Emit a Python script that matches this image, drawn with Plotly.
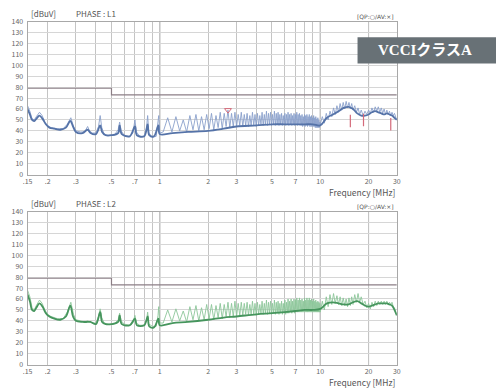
import plotly.graph_objects as go

# ---------------- data (MHz, dBuV) ----------------
LIMIT_F = [0.15, 0.5, 0.5, 30]
LIMIT_V = [79, 79, 73, 73]

X_TICKS = [0.15, 0.2, 0.3, 0.4, 0.5, 0.6, 0.7, 0.8, 0.9, 1, 2, 3, 4, 5, 6, 7, 8, 9, 10, 20, 30]
X_TEXT = [".15", ".2", ".3", "", ".5", "", ".7", "", "", "1", "2", "3", "", "5", "", "7", "", "", "10", "20", "30"]
Y_TICKS = [0, 10, 20, 30, 40, 50, 60, 70, 80, 90, 100, 110, 120, 130, 140]

# L1 - QP sweep
L1_LOW_F = [0.150, 0.155, 0.160, 0.165, 0.170, 0.178, 0.185, 0.192, 0.200, 0.210, 0.230, 0.250, 0.265, 0.279, 0.290,
            0.300, 0.320, 0.340, 0.355, 0.365, 0.380, 0.400, 0.415, 0.425, 0.435, 0.450, 0.480, 0.520, 0.550, 0.562,
            0.575, 0.600, 0.650, 0.680, 0.700, 0.715, 0.750, 0.800, 0.825, 0.840, 0.855, 0.900, 0.950, 0.975, 0.985]
L1_LOW_V = [63, 58, 51, 50, 53, 57, 54, 48, 45, 43, 42, 42, 46, 52, 44,
            40, 39, 39, 44, 40, 38, 38, 44, 54, 43, 37, 36, 36, 41, 48,
            40, 36, 35, 38, 50, 39, 35, 35, 42, 54, 38, 34, 35, 46, 54]
COMB_F = [1.00, 1.05, 1.12, 1.19, 1.26, 1.33, 1.40, 1.47, 1.54, 1.61, 1.68, 1.75, 1.82, 1.89, 1.96, 2.03, 2.10, 2.17,
          2.24, 2.31, 2.38, 2.45, 2.52, 2.59, 2.66, 2.73, 2.80, 2.87, 2.94, 3.01, 3.08, 3.15, 3.22, 3.29, 3.36, 3.43,
          3.50, 3.57, 3.64, 3.71, 3.78, 3.85, 3.92, 3.99, 4.06, 4.13, 4.20, 4.27, 4.34, 4.41, 4.48, 4.55, 4.62, 4.69,
          4.76, 4.83, 4.90, 4.97, 5.04, 5.11, 5.18, 5.25, 5.32, 5.39, 5.46, 5.53, 5.60, 5.67, 5.74, 5.81, 5.88, 5.95,
          6.02, 6.09, 6.16, 6.23, 6.30, 6.37, 6.44, 6.51, 6.58, 6.65, 6.72, 6.79, 6.86, 6.93, 7.00, 7.07, 7.14, 7.21,
          7.28, 7.35, 7.42, 7.49, 7.56, 7.63, 7.70, 7.77, 7.84, 7.91, 7.98, 8.05, 8.12, 8.19, 8.26, 8.33, 8.40, 8.47,
          8.54, 8.61, 8.68, 8.75, 8.82, 8.89, 8.96, 9.03, 9.10, 9.17, 9.24, 9.31, 9.38, 9.45, 9.52, 9.59, 9.66, 9.73,
          9.80, 9.87, 9.94]
L1_COMB_V = [38, 39, 52, 39, 53, 40, 50, 39, 54, 41, 55, 40, 53, 41, 55, 42, 56, 41,
             54, 43, 57, 42, 56, 44, 59, 43, 56, 44, 57, 44, 55, 45, 57, 44, 55, 45,
             56, 44, 54, 45, 57, 45, 55, 44, 56, 45, 54, 46, 57, 45, 55, 46, 58, 45,
             56, 46, 57, 45, 55, 46, 58, 45, 56, 46, 57, 45, 55, 46, 56, 45, 54, 46,
             56, 45, 55, 46, 57, 45, 55, 46, 56, 45, 54, 46, 56, 45, 55, 46, 57, 45,
             55, 46, 56, 45, 54, 45, 55, 44, 53, 45, 55, 44, 54, 45, 55, 44, 53, 45,
             55, 44, 53, 44, 54, 44, 52, 44, 54, 44, 52, 43, 53, 43, 51, 43, 52, 43,
             50, 43, 48]
HIGH_F = [10.0, 10.3, 10.6, 10.9, 11.2, 11.5, 11.8, 12.1, 12.4, 12.7, 13.0, 13.3, 13.6, 13.9, 14.2, 14.5, 14.8, 15.1,
          15.4, 15.7, 16.0, 16.4, 16.8, 17.2, 17.6, 18.0, 18.5, 19.0, 19.5, 20.0, 20.5, 21.0, 21.5, 22.0, 22.5, 23.0,
          23.5, 24.0, 24.5, 25.0, 25.5, 26.0, 26.5, 27.0, 27.5, 28.0, 28.5, 29.0, 29.5, 30.0]
L1_HIGH_V = [46, 53, 47, 56, 50, 58, 53, 61, 55, 63, 57, 65, 59, 66, 60, 67, 61, 66,
             60, 65, 59, 63, 57, 61, 55, 59, 54, 58, 55, 59, 56, 61, 57, 62, 58, 62,
             57, 61, 56, 60, 55, 59, 55, 58, 54, 57, 54, 56, 52, 50]

# L1 - AV sweep
AV_F = [0.150, 0.155, 0.160, 0.165, 0.170, 0.178, 0.186, 0.195, 0.205, 0.22, 0.24, 0.26, 0.277, 0.288, 0.30, 0.33,
        0.355, 0.37, 0.40, 0.425, 0.437, 0.46, 0.50, 0.55, 0.562, 0.58, 0.65, 0.70, 0.72, 0.80, 0.84, 0.86, 0.92,
        0.98, 1.00, 1.2, 1.5, 2.0, 2.5, 3.0, 4.0, 5.0, 6.0, 7.0, 8.0, 9.0, 10.0, 11.0, 12.0, 13.0, 14.0, 15.0,
        16.0, 17.0, 18.0, 19.0, 20.0, 21.0, 22.0, 23.0, 24.0, 25.0, 26.0, 27.0, 28.0, 29.0, 30.0]
L1_AV_V = [60, 55, 50, 49, 51, 54, 51, 46, 43, 42, 41, 43, 49, 44, 39, 38,
           41, 38, 37, 45, 39, 36, 36, 38, 45, 37, 35, 44, 36, 35, 46, 36, 35,
           45, 37, 38, 39, 40, 42, 44, 45, 46, 46, 46, 46, 46, 45, 52, 55, 58, 61, 62,
           60, 56, 54, 54, 55, 57, 58, 57, 56, 55, 56, 55, 54, 52, 50]

# L2 - QP sweep
L2_LOW_V = [68, 62, 52, 50, 54, 59, 56, 50, 46, 44, 42, 42, 48, 57, 46,
            41, 40, 39, 40, 39, 38, 38, 44, 51, 43, 38, 37, 37, 41, 47,
            40, 37, 36, 38, 45, 38, 36, 36, 40, 48, 37, 35, 35, 45, 53]
L2_COMB_V = [38, 38, 50, 39, 51, 40, 49, 39, 53, 41, 54, 40, 52, 41, 55, 42, 55, 41,
             54, 43, 56, 42, 55, 44, 57, 43, 56, 44, 58, 44, 56, 45, 57, 45, 56, 46,
             57, 45, 55, 46, 58, 46, 56, 45, 57, 46, 55, 47, 58, 46, 56, 47, 59, 46,
             57, 47, 58, 46, 56, 47, 59, 46, 57, 47, 58, 46, 56, 47, 58, 46, 56, 47,
             59, 46, 57, 47, 60, 47, 58, 48, 60, 47, 58, 48, 60, 47, 59, 48, 61, 48,
             59, 48, 61, 48, 59, 48, 60, 48, 58, 48, 61, 48, 59, 48, 61, 48, 59, 48,
             61, 48, 59, 48, 60, 48, 58, 48, 60, 48, 58, 48, 59, 48, 57, 48, 58, 48,
             57, 48, 56]
L2_HIGH_V = [48, 58, 50, 62, 53, 64, 55, 65, 56, 63, 55, 62, 54, 61, 54, 60, 53, 61,
             54, 62, 55, 64, 57, 65, 57, 62, 55, 58, 52, 56, 51, 57, 53, 58, 54, 58,
             55, 58, 55, 58, 55, 58, 55, 57, 55, 57, 53, 52, 48, 45]

# L2 - AV sweep
L2_AV_V = [64, 58, 50, 49, 52, 56, 53, 47, 44, 42, 41, 44, 54, 44, 40, 39,
           39, 39, 37, 48, 39, 37, 37, 39, 45, 37, 36, 42, 36, 36, 44, 35, 34,
           42, 36, 38, 39, 41, 43, 44, 46, 47, 48, 49, 50, 50, 51, 56, 57, 56, 55, 55,
           57, 58, 56, 54, 53, 54, 55, 56, 56, 56, 56, 55, 54, 50, 45]

# final-measurement markers (L1)
L1_QP_MARK_F = [2.66]
L1_QP_MARK_V = [59]
L1_AV_MARK_F = [15.4, 18.6, 27.5]
L1_AV_MARK_V = [49, 50, 46]

# ---------------- figure ----------------
W, H = 500, 390
LEFT, RIGHT = 23, 399
PANELS = [(16, 173), (211, 368)]

fig = go.Figure()

def px_x(p):
    return p / W

def px_y(p):
    return 1 - p / H

series = [
    ("L1", L1_LOW_V + L1_COMB_V + L1_HIGH_V, L1_AV_V, "#8aa0cc", "#5573a8"),
    ("L2", L2_LOW_V + L2_COMB_V + L2_HIGH_V, L2_AV_V, "#8cc69a", "#46955d"),
]
QP_F = L1_LOW_F + COMB_F + HIGH_F

axis_font = dict(family="Noto Sans CJK JP, DejaVu Sans", size=7, color="#666")

for i, ((top, bot), (name, qp_v, av_v, c_qp, c_av)) in enumerate(zip(PANELS, series)):
    n = "" if i == 0 else str(i + 1)
    xa, ya = "x" + n, "y" + n
    # limit line
    fig.add_trace(go.Scatter(x=LIMIT_F, y=LIMIT_V, mode="lines", xaxis=xa, yaxis=ya,
                             line=dict(color="#8c7f86", width=1.2), showlegend=False, hoverinfo="skip"))
    fig.add_trace(go.Scatter(x=QP_F, y=qp_v, mode="lines", xaxis=xa, yaxis=ya,
                             line=dict(color=c_qp, width=0.9), showlegend=False))
    fig.add_trace(go.Scatter(x=AV_F, y=av_v, mode="lines", xaxis=xa, yaxis=ya,
                             line=dict(color=c_av, width=1.8, shape="spline"), showlegend=False))
    if i == 0:
        fig.add_trace(go.Scatter(x=L1_QP_MARK_F, y=L1_QP_MARK_V, mode="markers", xaxis=xa, yaxis=ya,
                                 marker=dict(symbol="triangle-down-open", size=6, color="#d46a7a"),
                                 showlegend=False))
        fig.add_trace(go.Scatter(x=L1_AV_MARK_F, y=L1_AV_MARK_V, mode="markers", xaxis=xa, yaxis=ya,
                                 marker=dict(symbol="line-ns", size=9, line=dict(color="#d46a7a", width=1.2)),
                                 showlegend=False))

    dom_x = [px_x(LEFT), px_x(RIGHT)]
    dom_y = [px_y(bot), px_y(top)]
    fig.update_layout(**{
        "xaxis" + n: dict(domain=dom_x, type="log", range=[-0.8239, 1.4771], anchor=ya,
                          tickvals=X_TICKS, ticktext=X_TEXT, showgrid=True, gridcolor="#c4c4c4", gridwidth=1,
                          showline=True, linecolor="#a8a8a8", mirror=True, ticks="", zeroline=False,
                          tickfont=axis_font, ticklabelstandoff=0),
        "yaxis" + n: dict(domain=dom_y, range=[0, 140], anchor=xa, tickvals=Y_TICKS,
                          showgrid=True, gridcolor="#d6d6d6", gridwidth=1, showline=True, linecolor="#a8a8a8",
                          mirror=True, ticks="", zeroline=False, tickfont=axis_font, ticklabelstandoff=2),
    })
    # darker decade lines
    for xv in [1, 10, 20]:
        fig.add_shape(type="line", xref=xa, yref=ya + " domain", x0=xv, x1=xv, y0=0, y1=1,
                      line=dict(color="#8a8a8a", width=1), layer="below")
    # headers
    hdr_font = dict(family="Noto Sans CJK JP, DejaVu Sans", size=8, color="#555")
    fig.add_annotation(x=px_x(24), y=px_y(top - 1), xref="paper", yref="paper", text="[dBuV]",
                       showarrow=False, xanchor="left", yanchor="bottom", font=hdr_font)
    fig.add_annotation(x=px_x(70), y=px_y(top - 1), xref="paper", yref="paper", text="PHASE : " + name,
                       showarrow=False, xanchor="left", yanchor="bottom", font=hdr_font)
    fig.add_annotation(x=px_x(398), y=px_y(top), xref="paper", yref="paper", text="[QP:○/AV:×]",
                       showarrow=False, xanchor="right", yanchor="bottom",
                       font=dict(family="DejaVu Sans", size=6, color="#555"))
    fig.add_annotation(x=px_x(399), y=px_y(bot + 10), xref="paper", yref="paper", text="Frequency [MHz]",
                       showarrow=False, xanchor="right", yanchor="top",
                       font=dict(family="Noto Sans CJK JP, DejaVu Sans", size=8.5, color="#555"))

# VCCI class A badge
fig.add_shape(type="rect", xref="paper", yref="paper", x0=px_x(359), x1=1.0, y0=px_y(59), y1=px_y(32),
              fillcolor="#687176", line=dict(width=0))
fig.add_annotation(x=px_x(428), y=px_y(45.5), xref="paper", yref="paper", text="<b>VCCIクラスA</b>",
                   showarrow=False, xanchor="center", yanchor="middle",
                   font=dict(family="Liberation Serif, Noto Sans CJK JP", size=15, color="white"))

fig.update_layout(width=W, height=H, margin=dict(l=0, r=0, t=0, b=0),
                  paper_bgcolor="white", plot_bgcolor="white", showlegend=False)

fig.write_html("out.html")
